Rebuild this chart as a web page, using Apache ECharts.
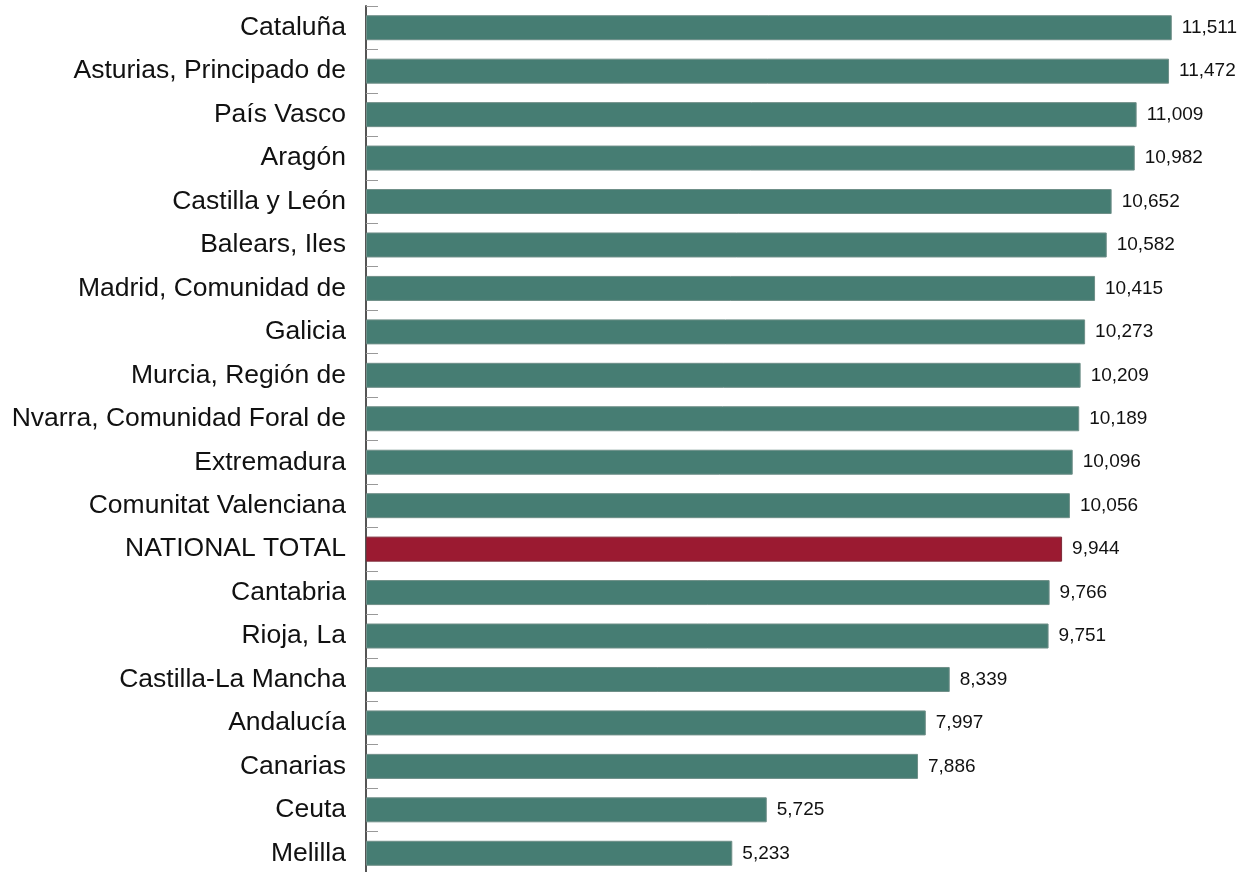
<!DOCTYPE html>
<html>
<head>
<meta charset="utf-8">
<script src="https://cdn.jsdelivr.net/npm/echarts@6/dist/echarts.min.js"></script>
<style>
	html, body { margin: 0; padding: 0; background: #fff; }
	#chart { width: 1245px; height: 872px; }
</style>
</head>
<body>
<div id="chart"></div>
<script>
var regions = ['Cataluña', 'Asturias, Principado de', 'País Vasco', 'Aragón', 'Castilla y León',
	'Balears, Iles', 'Madrid, Comunidad de', 'Galicia', 'Murcia, Región de',
	'Nvarra, Comunidad Foral de', 'Extremadura', 'Comunitat Valenciana', 'NATIONAL TOTAL',
	'Cantabria', 'Rioja, La', 'Castilla-La Mancha', 'Andalucía', 'Canarias', 'Ceuta', 'Melilla'];
var values = [11511, 11472, 11009, 10982, 10652, 10582, 10415, 10273, 10209, 10189,
	10096, 10056, 9944, 9766, 9751, 8339, 7997, 7886, 5725, 5233];
var highlight = 'NATIONAL TOTAL';

var chart = echarts.init(document.getElementById('chart'));

var barData = values.map(function(v, i) {
	var isTotal = regions[i] === highlight;
	return {
		value: v,
		itemStyle: {
			color: isTotal ? '#9b1a31' : '#467d73',
			borderColor: isTotal ? '#7d2a38' : '#6f8f88',
			borderWidth: 1
		}
	};
});

chart.setOption({
	animation: false,
	grid: { left: 366, right: 39, top: 6, bottom: -3, outerBoundsMode: 'none' },
	xAxis: {
		type: 'value',
		min: 0,
		max: 12000,
		show: false
	},
	yAxis: {
		type: 'category',
		inverse: true,
		data: regions,
		axisLine: { show: true, lineStyle: { color: '#555', width: 2 } },
		axisTick: { show: true, inside: true, length: 12, lineStyle: { color: '#999', width: 1 } },
		axisLabel: {
			margin: 20,
			color: '#111',
			fontFamily: '"Liberation Sans"',
			fontSize: 26.5
		},
		splitLine: { show: false }
	},
	series: [{
		type: 'bar',
		data: barData,
		barWidth: 25,
		label: {
			show: true,
			position: 'right',
			distance: 10,
			color: '#111',
			fontFamily: '"Liberation Sans"',
			fontSize: 19,
			formatter: function(p) {
				return p.value.toLocaleString('en-US');
			}
		}
	}]
});
</script>
</body>
</html>
